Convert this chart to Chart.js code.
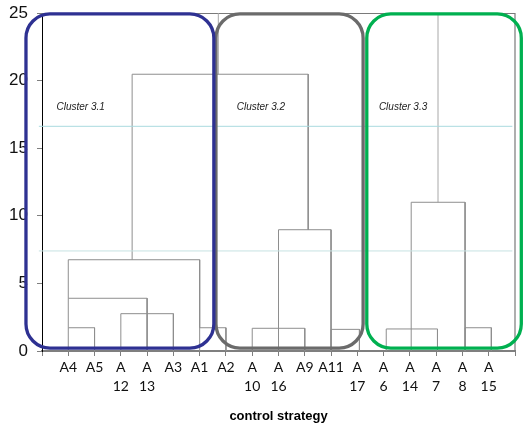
<!DOCTYPE html>
<html>
<head>
<meta charset="utf-8">
<script src="https://cdn.jsdelivr.net/npm/chart.js@4/dist/chart.umd.min.js"></script>
<style>
  html, body { margin: 0; padding: 0; background: #fff; }
  #wrap { width: 524px; height: 432px; position: relative; }
</style>
</head>
<body>
<div id="wrap"><canvas id="dendroChart"></canvas></div>
<script>
//====================================== data ======================================

// leaves (control strategies) in the order they sit on the axis
var leafLabels = ['A4', 'A5', ['A', '12'], ['A', '13'], 'A3', 'A1', 'A2', ['A', '10'], ['A', '16'],
    'A9', 'A11', ['A', '17'], ['A', '6'], ['A', '14'], ['A', '7'], ['A', '8'], ['A', '15']];

// merges: x of left / right branch, join height, where each branch starts
var mergeLeftX     = [1,    3,    1,   6,    1,    8,    11,    9,    3.43,  13.1, 16.1, 14.05];
var mergeRightX    = [2,    5,    4,   7,    6,    10,   12.08, 11,   10.13, 15.05, 17.1, 16.1];
var mergeHeight    = [1.72, 2.76, 3.9, 1.72, 6.75, 1.68, 1.6,   8.97, 20.47, 1.63, 1.72, 11.0];
var mergeLeftFrom  = [0,    0,    1.72, 0,   3.9,  0,    0,     0,    6.75,  0,    0,    0];
var mergeRightFrom = [0,    0,    0,   0,    1.72, 0,    0,     0,    8.97,  0,    0,    0];

// links going up to the top of the tree
var stemX    = [6.71, 15.07];
var stemFrom = [20.47, 11.0];
var stemTo   = 25;

// cut levels
var cutLevels = [16.62, 7.4];

var clusterNames = ['Cluster 3.1', 'Cluster 3.2', 'Cluster 3.3'];

//====================================== datasets ==================================

var datasets = [];

cutLevels.forEach(function(h, i) {
    datasets.push({
        data: [{x: -0.12, y: h}, {x: 17.9, y: h}],
        borderColor: i == 0 ? '#a9dadf' : '#c6e2e2',
        borderWidth: 1,
        clip: false
    });
});

for (var i = 0; i < mergeHeight.length; i++) {
    datasets.push({
        data: [
            {x: mergeLeftX[i], y: mergeLeftFrom[i]},
            {x: mergeLeftX[i], y: mergeHeight[i]},
            {x: mergeRightX[i], y: mergeHeight[i]},
            {x: mergeRightX[i], y: mergeRightFrom[i]}
        ],
        borderColor: '#8e8e8e',
        borderWidth: 1
    });
}

for (var i = 0; i < stemX.length; i++) {
    datasets.push({
        data: [{x: stemX[i], y: stemFrom[i]}, {x: stemX[i], y: stemTo}],
        borderColor: '#a8a8a8',
        borderWidth: 1
    });
}

datasets.forEach(function(d) {
    d.showLine = true;
    d.pointRadius = 0;
    d.tension = 0;
});

//====================================== plugins ===================================

// top and right frame lines of the plot area
var framePlugin = {
    id: 'frame',
    beforeDatasetsDraw: function(chart) {
        var a = chart.chartArea, ctx = chart.ctx;
        ctx.save();
        ctx.strokeStyle = '#7a7a7a';
        ctx.lineWidth = 1.2;
        ctx.beginPath();
        ctx.moveTo(a.left, a.top + 0.5);
        ctx.lineTo(a.right, a.top + 0.5);
        ctx.lineTo(a.right, a.bottom);
        ctx.stroke();
        ctx.restore();
    }
};

// rounded boxes round each cluster, plus their names
var clusterPlugin = {
    id: 'clusters',
    afterDatasetsDraw: function(chart, args, opts) {
        var xs = chart.scales.x, ys = chart.scales.y, ctx = chart.ctx;
        ctx.save();
        opts.boxes.forEach(function(b) {
            var l = xs.getPixelForValue(b.x0), r = xs.getPixelForValue(b.x1);
            var t = ys.getPixelForValue(opts.top), btm = ys.getPixelForValue(opts.bottom);
            ctx.beginPath();
            ctx.roundRect(l, t, r - l, btm - t, opts.radius);
            ctx.strokeStyle = b.color;
            ctx.lineWidth = 3.3;
            ctx.stroke();
        });
        ctx.fillStyle = '#222';
        ctx.font = 'italic 10px "Liberation Sans", Arial, sans-serif';
        ctx.textAlign = 'left';
        ctx.textBaseline = 'middle';
        clusterNames.forEach(function(name, i) {
            ctx.fillText(name, xs.getPixelForValue(opts.labelX[i]), ys.getPixelForValue(opts.labelY));
        });
        ctx.restore();
    }
};

//====================================== chart =====================================

var ctxDendro = document.getElementById('dendroChart').getContext('2d');
var dendroChart = new Chart(ctxDendro, {
    type: 'scatter',
    data: { datasets: datasets },
    options: {
        responsive: true,
        maintainAspectRatio: false,
        animation: false,
        layout: { padding: { top: 13, right: 9, left: 0, bottom: 0 } },
        plugins: {
            legend: { display: false },
            tooltip: { enabled: false },
            clusters: {
                boxes: [
                    {x0: 6.62, x1: 12.22, color: '#6b6b6b'},
                    {x0: -0.61, x1: 6.54, color: '#2e3192'},
                    {x0: 12.36, x1: 18.24, color: '#00b050'}
                ],
                top: 24.93,
                bottom: 0.22,
                radius: 24,
                labelX: [0.55, 7.41, 12.82],
                labelY: 18
            }
        },
        scales: {
            x: {
                type: 'linear',
                min: 0,
                max: 18,
                afterFit: function(scale) { scale.height = 81; },
                border: { color: '#7f7f7f', width: 2 },
                grid: { drawOnChartArea: false, tickLength: 5, color: '#7f7f7f' },
                ticks: {
                    stepSize: 1,
                    autoSkip: false,
                    maxRotation: 0,
                    padding: 2,
                    color: '#111',
                    font: { family: 'Lato, "Open Sans", sans-serif', size: 14, lineHeight: 1.38 },
                    callback: function(v) {
                        return (v >= 1 && v <= leafLabels.length) ? leafLabels[v - 1] : '';
                    }
                },
                title: {
                    display: true,
                    text: 'control strategy',
                    color: '#000',
                    padding: { top: 0, bottom: 8 },
                    font: { family: '"Liberation Sans", Arial, sans-serif', size: 13, weight: 'bold' }
                }
            },
            y: {
                min: 0,
                max: 25,
                afterFit: function(scale) {
                    scale.width = 42;
                    scale.paddingTop = 0;
                    scale.paddingBottom = 0;
                },
                border: { color: '#000', width: 1 },
                grid: { drawOnChartArea: false, tickLength: 5, color: '#7f7f7f' },
                ticks: {
                    stepSize: 5,
                    padding: 9,
                    color: '#111',
                    font: { family: '"Liberation Sans", Arial, sans-serif', size: 17 }
                }
            }
        }
    },
    plugins: [framePlugin, clusterPlugin]
});
</script>
</body>
</html>
